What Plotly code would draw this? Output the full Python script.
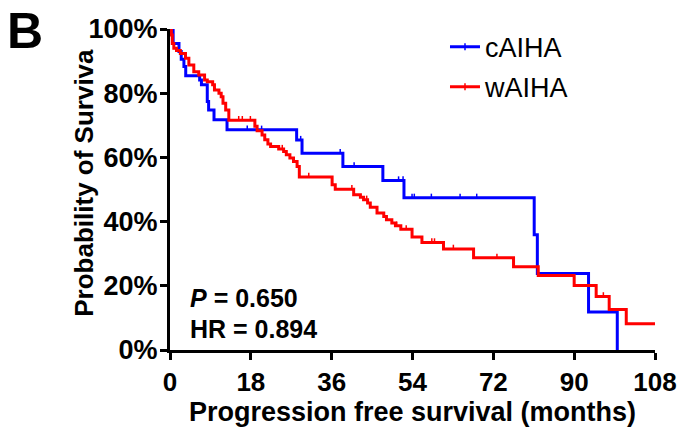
import numpy as np
import plotly.graph_objects as go

# Kaplan-Meier steps: time of each step (months) and survival (%) after it
caiha_time = [0, 0.7, 2.0, 2.5, 3.1, 3.5, 6.6, 7.0, 8.3, 8.6, 9.8, 12.7,
              28.2, 29.4, 38.5, 47.4, 52.1, 81.1, 81.8, 93.2, 99.6]
caiha_surv = [100, 95.5, 93.0, 90.6, 88.3, 85.4, 84.1, 82.6, 77.4, 74.8, 71.7, 68.6,
              65.4, 61.3, 57.2, 52.8, 47.4, 35.9, 23.8, 11.8, 0]
caiha_censor = [17.2, 20.4, 29.1, 37.9, 41.0, 50.9, 51.9, 53.9, 54.4, 58.2, 64.6, 68.3]

waiha_time = [0, 0.3, 0.5, 0.85, 1.45, 2.3, 3.45, 4.2, 5.3, 6.4, 7.7, 8.3, 9.5, 9.9,
              10.9, 11.4, 11.8, 12.4, 13.1, 18.9, 19.4, 20.5, 21.1, 21.8, 22.4, 24.2,
              25.3, 25.9, 26.7, 27.5, 28.3, 28.8, 36.1, 36.8, 40.9, 42.4, 43.1, 44.0,
              44.6, 46.1, 47.6, 48.2, 49.4, 50.2, 51.4, 53.9, 56.1, 60.9, 67.6, 76.5,
              82.0, 90.0, 94.9, 97.8, 101.6]
waiha_surv = [100, 98.1, 95.5, 94.0, 93.3, 92.4, 90.9, 88.8, 86.7, 85.7, 84.1, 83.6, 82.6, 81.0,
              80.0, 78.9, 76.9, 74.8, 71.6, 69.7, 68.3, 67.0, 65.5, 64.2, 63.4, 62.6,
              61.8, 60.8, 59.8, 58.7, 57.2, 53.9, 51.5, 50.1, 48.4, 47.6, 46.8, 45.8,
              44.5, 42.7, 41.6, 40.6, 39.6, 38.7, 37.6, 35.2, 33.5, 31.5, 28.7, 25.9,
              23.2, 20.1, 16.7, 12.6, 8.2]
waiha_censor = [15.3, 16.1, 17.9, 25.0, 30.9, 40.5, 43.8, 50.5, 52.6, 58.3, 58.9, 63.1,
                72.8, 96.5]
waiha_last = 108

x_ticks = [0, 18, 36, 54, 72, 90, 108]
y_ticks = [0, 20, 40, 60, 80, 100]

BLUE = "#0000FF"
RED = "#FF0000"
FONT = "Arial, Liberation Sans, sans-serif"


def surv_at(times, surv, t):
    idx = np.searchsorted(np.asarray(times), t, side="right") - 1
    return np.asarray(surv)[idx]


def censor_segments(times, surv, cens, h=1.3):
    xs, ys = [], []
    for t in cens:
        s = float(surv_at(times, surv, t))
        xs += [t, t, None]
        ys += [s, s + h, None]
    return xs, ys


fig = go.Figure()

groups = [
    ("cAIHA", caiha_time, caiha_surv, caiha_censor, None, BLUE),
    ("wAIHA", waiha_time, waiha_surv, waiha_censor, waiha_last, RED),
]

for name, t, s, c, last, color in groups:
    tx = list(t) + ([last] if last is not None else [])
    sy = list(s) + ([s[-1]] if last is not None else [])
    fig.add_trace(go.Scatter(
        x=tx, y=sy, mode="lines", line=dict(color=color, width=3, shape="hv"),
        showlegend=False, hoverinfo="skip"))
    cx, cy = censor_segments(t, s, c)
    fig.add_trace(go.Scatter(
        x=cx, y=cy, mode="lines", line=dict(color=color, width=1.5),
        showlegend=False, hoverinfo="skip"))
    # legend entry: line with a small censor tick
    fig.add_trace(go.Scatter(
        x=[None], y=[None], mode="lines+markers", name=name, legendgroup=name,
        line=dict(color=color, width=3),
        marker=dict(symbol="line-ns-open", size=5, color=color,
                    line=dict(color=color, width=1.5))))

axis_common = dict(
    showline=True, linecolor="black", linewidth=3, mirror=False,
    ticks="outside", ticklen=7, tickwidth=3, tickcolor="black",
    showgrid=False, zeroline=False, automargin=False,
)

fig.update_xaxes(
    range=[0, 108], tickvals=x_ticks, ticktext=[str(v) for v in x_ticks],
    tickfont=dict(family=FONT, size=26, color="black", weight="bold"),
    title=dict(text="<b>Progression free survival (months)</b>", standoff=6,
               font=dict(family=FONT, size=27, color="black")),
    **axis_common)
fig.update_yaxes(
    range=[0, 100], tickvals=y_ticks, ticktext=[f"{v}%" for v in y_ticks],
    tickfont=dict(family=FONT, size=27, color="black", weight="bold"),
    ticklabelstandoff=-3,
    **axis_common)

# y-axis title placed close to the tick labels
fig.add_annotation(text="<b>Probability of Surviva</b>", xref="paper", yref="paper",
                   x=-0.178, y=0.52, xanchor="center", yanchor="middle",
                   textangle=-90, showarrow=False,
                   font=dict(family=FONT, size=26, color="black"))

fig.add_annotation(text="<b><i>P</i> = 0.650</b>", xref="x", yref="y", x=3.9, y=16.3,
                   xanchor="left", yanchor="middle", showarrow=False,
                   font=dict(family=FONT, size=25, color="black"))
fig.add_annotation(text="<b>HR = 0.894</b>", xref="x", yref="y", x=3.9, y=6.4,
                   xanchor="left", yanchor="middle", showarrow=False,
                   font=dict(family=FONT, size=25, color="black"))
fig.add_annotation(text="<b>B</b>", xref="paper", yref="paper", x=-0.341, y=0.995,
                   xanchor="left", yanchor="middle", showarrow=False,
                   font=dict(family=FONT, size=50, color="black"))

fig.update_layout(
    width=679, height=430,
    margin=dict(l=170, r=24, t=29, b=80),
    paper_bgcolor="white", plot_bgcolor="white",
    legend=dict(x=0.567, y=1.02, xanchor="left", yanchor="top",
                bgcolor="rgba(0,0,0,0)", tracegroupgap=2,
                font=dict(family=FONT, size=27, color="black")),
)

fig.write_html("out.html")
